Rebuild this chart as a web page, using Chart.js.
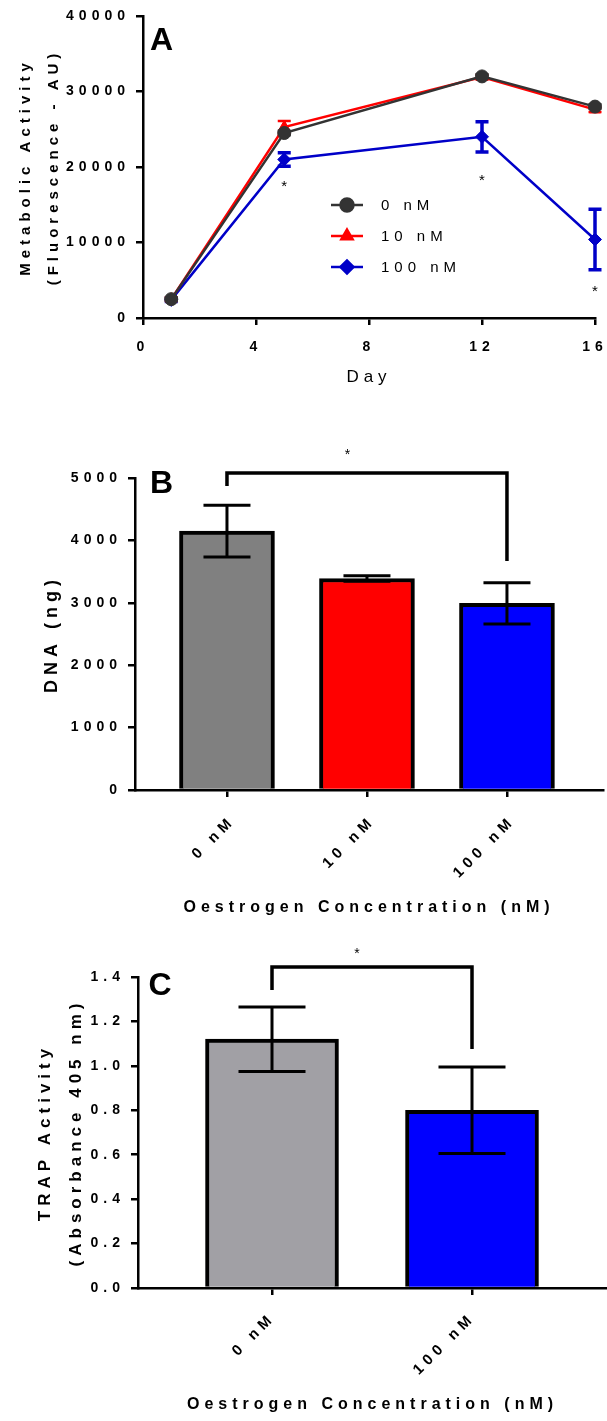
<!DOCTYPE html>
<html>
<head>
<meta charset="utf-8">
<script src="https://cdn.jsdelivr.net/npm/chart.js@4/dist/chart.umd.min.js"></script>
<style>
body { margin: 0; background: #fff; width: 607px; height: 1421px; position: relative; overflow: hidden; }
canvas { position: absolute; left: 0; }
</style>
</head>
<body>
<canvas id="chartA" width="607" height="400" style="top:0"></canvas>
<canvas id="chartB" width="607" height="500" style="top:420px"></canvas>
<canvas id="chartC" width="607" height="481" style="top:940px"></canvas>
<script>
// A: metabolic activity vs day
var days = [1, 5, 12, 16];
var act0 = [2500, 24500, 32000, 28000];
var act0Err = [150, 300, 300, 300];
var act10 = [2500, 25300, 31900, 27600];
var act10Err = [200, 800, 300, 300];
var act100 = [2400, 21000, 24000, 10400];
var act100Err = [200, 900, 2000, 4000];
var starDaysA = [5, 12, 16];
var starLevelA = [18000, 18700, 4000];

// B: DNA content
var dnaGroups = ["0 nM", "10 nM", "100 nM"];
var dna = [4150, 3390, 2990];
var dnaErr = [415, 45, 330];

// C: TRAP activity
var trapGroups = ["0 nM", "100 nM"];
var trap = [1.12, 0.80];
var trapErr = [0.145, 0.195];

var FONT = '"Liberation Sans", Arial, sans-serif';
Chart.defaults.font.family = FONT;
Chart.defaults.color = "#000";

// prism-like wide lettering
var spaced = {
	id: "spaced",
	beforeLayout: function(chart) { chart.ctx.letterSpacing = "5px"; },
	beforeDraw: function(chart) { chart.ctx.letterSpacing = "5px"; }
};

function errorBar(ctx, px, yScale, val, err, capHalf, color, width) {
	var top = yScale.getPixelForValue(val + err);
	var bot = yScale.getPixelForValue(val - err);
	ctx.save();
	ctx.strokeStyle = color;
	ctx.lineWidth = width;
	ctx.lineCap = "butt";
	ctx.beginPath();
	ctx.moveTo(px, top); ctx.lineTo(px, bot);
	ctx.moveTo(px - capHalf, top); ctx.lineTo(px + capHalf, top);
	ctx.moveTo(px - capHalf, bot); ctx.lineTo(px + capHalf, bot);
	ctx.stroke();
	ctx.restore();
}

function star(ctx, x, y, size) {
	ctx.save();
	ctx.letterSpacing = "0px";
	ctx.fillStyle = "#000";
	ctx.font = size + "px " + FONT;
	ctx.textAlign = "center";
	ctx.textBaseline = "alphabetic";
	ctx.fillText("*", x, y + size * 0.57);
	ctx.restore();
}

function panelLetter(chart, letter, dx, dy) {
	var ctx = chart.ctx, area = chart.chartArea;
	ctx.save();
	ctx.letterSpacing = "0px";
	ctx.fillStyle = "#000";
	ctx.font = "bold 32px " + FONT;
	ctx.textAlign = "left";
	ctx.textBaseline = "alphabetic";
	ctx.fillText(letter, area.left + dx, area.top + dy);
	ctx.restore();
}

function bracket(chart, fromX, toX, top, leftEnd, rightEnd, starX, starY) {
	var ctx = chart.ctx, x = chart.scales.x, y = chart.scales.y;
	var x1 = x.getPixelForValue(fromX), x2 = x.getPixelForValue(toX);
	ctx.save();
	ctx.strokeStyle = "#000";
	ctx.lineWidth = 3.5;
	ctx.lineJoin = "miter";
	ctx.beginPath();
	ctx.moveTo(x1, y.getPixelForValue(leftEnd));
	ctx.lineTo(x1, y.getPixelForValue(top));
	ctx.lineTo(x2, y.getPixelForValue(top));
	ctx.lineTo(x2, y.getPixelForValue(rightEnd));
	ctx.stroke();
	ctx.restore();
	star(chart.ctx, x.getPixelForValue(starX), y.getPixelForValue(starY), 14);
}

function axis(extra) {
	var base = {
		border: { display: true, color: "#000", width: 2.5 },
		grid: { drawOnChartArea: false, drawTicks: true, tickLength: 7, color: "#000", lineWidth: 2.5 },
		ticks: { color: "#000", font: { size: 14, weight: "bold" }, autoSkip: false }
	};
	for (var k in extra) {
		if (typeof extra[k] == "object" && base[k]) base[k] = Object.assign(base[k], extra[k]);
		else base[k] = extra[k];
	}
	return base;
}

// fixed axis box sizes, and no extra room for overhanging tick labels
function fixedHeight(h) {
	return function(s) { s.height = h; s.paddingLeft = 0; s.paddingRight = 0; };
}
function fixedWidth(w) {
	return function(s) { s.width = w; s.paddingTop = 0; s.paddingBottom = 0; };
}

function points(xs, ys) {
	return xs.map(function(v, i) { return { x: v, y: ys[i] }; });
}

// ---------- panel A ----------
var errA = [act0Err, act10Err, act100Err];
var panelA = {
	id: "panelA",
	beforeDatasetsDraw: function(chart) {
		var x = chart.scales.x, y = chart.scales.y;
		for (var d = chart.data.datasets.length - 1; d >= 0; d--) {
			var ds = chart.data.datasets[d];
			for (var i = 0; i < days.length; i++) {
				errorBar(chart.ctx, x.getPixelForValue(days[i]), y, ds.data[i].y, errA[d][i], 6.5, ds.borderColor, d == 2 ? 3.5 : 2.5);
			}
		}
	},
	afterDraw: function(chart) {
		var ctx = chart.ctx, x = chart.scales.x, y = chart.scales.y, area = chart.chartArea;
		for (var i = 0; i < starDaysA.length; i++) {
			star(ctx, x.getPixelForValue(starDaysA[i]), y.getPixelForValue(starLevelA[i]), 15);
		}
		// legend
		var lx = area.left + 188, ly = area.top + 189;
		chart.data.datasets.forEach(function(ds, i) {
			var cy = ly + i * 31;
			ctx.save();
			ctx.strokeStyle = ds.borderColor;
			ctx.fillStyle = ds.backgroundColor;
			ctx.lineWidth = 2.5;
			ctx.beginPath();
			ctx.moveTo(lx, cy); ctx.lineTo(lx + 32, cy);
			ctx.stroke();
			Chart.helpers.drawPoint(ctx, { pointStyle: ds.pointStyle, radius: ds.pointRadius, borderWidth: 1, rotation: 0 }, lx + 16, cy);
			ctx.letterSpacing = "5px";
			ctx.fillStyle = "#000";
			ctx.font = "15px " + FONT;
			ctx.textAlign = "left";
			ctx.textBaseline = "middle";
			ctx.fillText(ds.label, lx + 50, cy + 1);
			ctx.restore();
		});
		panelLetter(chart, "A", 7, 34);
	}
};

new Chart(document.getElementById("chartA"), {
	type: "line",
	data: {
		datasets: [
			{ label: "0 nM", data: points(days, act0), borderColor: "#333333", backgroundColor: "#333333",
			  pointStyle: "circle", pointRadius: 6.5, pointBorderWidth: 1, borderWidth: 2.5, clip: false },
			{ label: "10 nM", data: points(days, act10), borderColor: "#FF0000", backgroundColor: "#FF0000",
			  pointStyle: "triangle", pointRadius: 6.5, pointBorderWidth: 1, borderWidth: 2.5, clip: false },
			{ label: "100 nM", data: points(days, act100), borderColor: "#0000C8", backgroundColor: "#0000C8",
			  pointStyle: "rectRot", pointRadius: 6.5, pointBorderWidth: 1, borderWidth: 2.5, clip: false }
		]
	},
	options: {
		responsive: false,
		animation: false,
		layout: { padding: { top: 16, right: 12, bottom: 0, left: 0 } },
		plugins: { legend: { display: false }, tooltip: { enabled: false } },
		scales: {
			x: axis({
				type: "linear", min: 0, max: 16,
				ticks: { stepSize: 4, padding: 14 },
				title: { display: true, text: "Day", font: { size: 17 }, padding: { top: 0, bottom: 12 } },
				afterFit: fixedHeight(82)
			}),
			y: axis({
				min: 0, max: 40000,
				ticks: { stepSize: 10000, padding: 6, callback: function(v) { return String(v); } },
				title: { display: true, text: ["Metabolic Activity", "(Fluorescence - AU)"],
				         font: { size: 15, weight: "bold", lineHeight: 1.87 }, padding: { top: 12, bottom: 0 } },
				afterFit: fixedWidth(143)
			})
		}
	},
	plugins: [spaced, panelA]
});

// ---------- bar panels ----------
function barChart(id, groups, values, errs, opts) {
	return new Chart(document.getElementById(id), {
		type: "bar",
		data: {
			datasets: [{
				data: points(groups.map(function(g, i) { return i + 1; }), values),
				backgroundColor: opts.colors,
				borderColor: "#000",
				borderWidth: 4,
				barThickness: opts.barWidth
			}]
		},
		options: {
			responsive: false,
			animation: false,
			layout: { padding: opts.padding },
			plugins: { legend: { display: false }, tooltip: { enabled: false } },
			scales: {
				x: axis({
					type: "linear", min: opts.xMin, max: opts.xMax, offset: false,
					grid: { offset: false },
					afterBuildTicks: function(s) { s.ticks = groups.map(function(g, i) { return { value: i + 1 }; }); },
					ticks: { minRotation: 45, maxRotation: 45, padding: opts.labelPad, labelOffset: opts.labelOffset,
					         font: { size: 15, weight: "bold" },
					         callback: function(v) { return groups[v - 1]; } },
					title: { display: true, text: "Oestrogen Concentration (nM)", font: { size: 16, weight: "bold" },
					         padding: { top: 0, bottom: opts.titlePad } },
					afterFit: fixedHeight(opts.xHeight)
				}),
				y: axis({
					min: 0, max: opts.yMax,
					ticks: { stepSize: opts.yStep, padding: 6, callback: opts.yFormat },
					title: { display: true, text: opts.yTitle, font: { size: opts.yTitleSize, weight: "bold", lineHeight: opts.yTitleLine },
					         padding: { top: opts.yTitlePad, bottom: 0 } },
					afterFit: fixedWidth(opts.yWidth)
				})
			}
		},
		plugins: [spaced, {
			id: "annot",
			afterDatasetsDraw: function(chart) {
				var x = chart.scales.x, y = chart.scales.y;
				for (var i = 0; i < values.length; i++) {
					errorBar(chart.ctx, x.getPixelForValue(i + 1), y, values[i], errs[i], opts.capHalf, "#000", 3);
				}
			},
			afterDraw: function(chart) {
				var b = opts.bracket;
				bracket(chart, b.from, b.to, b.top, b.leftEnd, b.rightEnd, b.starX, b.starY);
				panelLetter(chart, opts.letter, opts.letterX, opts.letterY);
			}
		}]
	});
}

barChart("chartB", dnaGroups, dna, dnaErr, {
	colors: ["#808080", "#FF0000", "#0000FF"],
	barWidth: 95, capHalf: 23.5,
	padding: { top: 58, right: 4, bottom: 0, left: 0 },
	xMin: 0.343, xMax: 3.686, xHeight: 130, titlePad: 2.4,
	labelPad: 15, labelOffset: 6,
	yMax: 5000, yStep: 1000, yWidth: 135,
	yFormat: function(v) { return String(v); },
	yTitle: "DNA (ng)", yTitleSize: 18, yTitleLine: 1.2, yTitlePad: 41,
	bracket: { from: 1, to: 3, top: 5080, leftEnd: 4870, rightEnd: 3670, starX: 1.86, starY: 5430 },
	letter: "B", letterX: 15, letterY: 15
});

barChart("chartC", trapGroups, trap, trapErr, {
	colors: ["#A1A0A5", "#0000FF"],
	barWidth: 133, capHalf: 33.5,
	padding: { top: 37, right: 0, bottom: 0, left: 0 },
	xMin: 0.33, xMax: 2.675, xHeight: 133, titlePad: 6.4,
	labelPad: 14, labelOffset: 1,
	yMax: 1.4, yStep: 0.2, yWidth: 138,
	yFormat: function(v) { return v.toFixed(1); },
	yTitle: ["TRAP Activity", "(Absorbance 405 nm)"], yTitleSize: 17, yTitleLine: 1.8, yTitlePad: 30,
	bracket: { from: 1, to: 2, top: 1.445, leftEnd: 1.342, rightEnd: 1.076, starX: 1.425, starY: 1.52 },
	letter: "C", letterX: 10.5, letterY: 18
});
</script>
</body>
</html>
